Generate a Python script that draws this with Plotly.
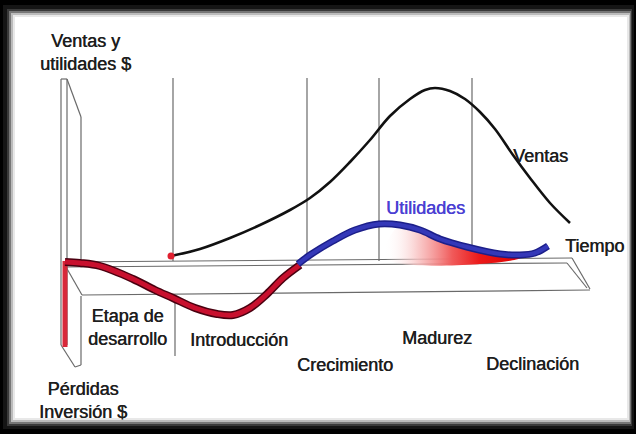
import plotly.graph_objects as go

# ---------------- data (time position, value above the time axis) ----------------
sales_t = [171, 200, 230, 260, 290, 310, 330, 350, 370, 390, 410, 425, 435, 450, 465, 480, 495, 513, 530, 550, 570]
sales_v = [6, 13, 24, 37, 52, 64, 80, 100, 122, 146, 163, 172, 174, 171, 163, 150, 133, 107, 84, 59, 39]

loss_t = [65, 80, 100, 133, 155, 173, 195, 217, 233, 250, 267, 283, 300]
loss_v = [0, -1, -4, -17, -28, -36, -46, -52, -53, -46, -32, -16, -3]

profit_t = [298, 310, 333, 355, 379, 400, 420, 440, 467, 500, 520, 535, 548]
profit_v = [-2, 7, 21, 32, 38, 37, 32, 23, 15, 8, 7, 9, 16]

invest_t = [65, 65]
invest_v = [1, -85]

stage_bounds = [173, 307, 379, 472]
stage_labels = ["Introducción", "Crecimiento", "Madurez", "Declinación"]

BASE = 262  # pixel row of the time axis


def v(py):
    return BASE - py


fig = go.Figure()

# gradient area under the profit curve (maturity/decline)
fill_t = [t for t in profit_t if 385 <= t <= 520]
fill_v = [val for t, val in zip(profit_t, profit_v) if 385 <= t <= 520]
fig.add_trace(go.Scatter(
    x=[385] + fill_t + [520, 385], y=[4] + fill_v + [4, 4],
    mode="lines", line=dict(width=0, shape="spline"), fill="toself",
    fillgradient=dict(type="horizontal",
                      colorscale=[[0, "rgba(255,255,255,0)"], [0.25, "rgba(248,190,190,0.8)"],
                                  [0.5, "rgb(240,90,90)"], [0.7, "rgb(235,25,25)"], [1, "rgb(225,0,0)"]]),
    hoverinfo="skip", showlegend=False))

# sales curve
fig.add_trace(go.Scatter(x=sales_t, y=sales_v, mode="lines", line=dict(color="#111", width=2.6, shape="spline"),
                         showlegend=False, hoverinfo="skip"))
fig.add_trace(go.Scatter(x=[sales_t[0]], y=[sales_v[0]], mode="markers",
                         marker=dict(color="#e02030", size=7), showlegend=False, hoverinfo="skip"))

# investment drop on left wall
fig.add_trace(go.Scatter(x=invest_t, y=invest_v, mode="lines", line=dict(color="#d8283a", width=5),
                         showlegend=False, hoverinfo="skip"))
# loss curve (red with dark edge)
fig.add_trace(go.Scatter(x=loss_t, y=loss_v, mode="lines", line=dict(color="#4a0010", width=8, shape="spline"),
                         showlegend=False, hoverinfo="skip"))
fig.add_trace(go.Scatter(x=loss_t, y=loss_v, mode="lines", line=dict(color="#c8102e", width=5, shape="spline"),
                         showlegend=False, hoverinfo="skip"))
# profit curve (blue)
fig.add_trace(go.Scatter(x=profit_t, y=profit_v, mode="lines", line=dict(color="#1c1f8a", width=7, shape="spline"),
                         showlegend=False, hoverinfo="skip"))
fig.add_trace(go.Scatter(x=profit_t, y=profit_v, mode="lines", line=dict(color="#3438b8", width=4, shape="spline"),
                         showlegend=False, hoverinfo="skip"))

shapes = []
# frame with soft edges
for (x0, y0, x1, y1, c) in [(3, 5, 634, 429, "#151515"), (7, 9, 632, 426, "#3a3a3a"),
                            (9, 11, 631, 424, "#777"), (11, 13, 630, 422, "#bbb"),
                            (13, 15, 629, 420, "#e8e8e8"), (15, 17, 627, 418, "#ffffff")]:
    shapes.append(dict(type="rect", x0=x0, x1=x1, y0=v(y0), y1=v(y1), fillcolor=c,
                       line=dict(width=0), layer="below"))

gl = dict(color="#6a6a6a", width=1.2)


def seg(p0, p1, line=gl):
    shapes.append(dict(type="line", x0=p0[0], y0=v(p0[1]), x1=p1[0], y1=v(p1[1]), line=line, layer="below"))


# stage dividers
for b in stage_bounds:
    shapes.append(dict(type="line", x0=b, x1=b, y0=v(78), y1=v(261), line=gl, layer="below"))
seg((175, 297), (175, 356))

# left wall (vertical axis panel)
seg((61, 79), (67, 79))
seg((61, 79), (61, 345))
seg((67, 79), (67, 345))
seg((67, 79), (81, 117))
seg((81, 117), (81, 262))
seg((81, 296), (81, 365))
seg((61, 345), (75, 367))
seg((75, 367), (81, 365))

# time axis platform
seg((63, 262), (572, 258))
seg((66, 267), (567, 263))
seg((82, 295), (590, 290))
seg((66, 267), (82, 295))
seg((572, 258), (590, 289))
seg((567, 263), (587, 288))

FONT = dict(family="Liberation Sans, Arial, sans-serif", size=18, color="#1e1e1e",
            shadow="0.4px 0 0 #1e1e1e")
ann = []


def txt(x, py, s, anchor="center", color=None):
    f = dict(FONT)
    if color:
        f["color"] = color
        f["shadow"] = "0.4px 0 0 " + color
    ann.append(dict(x=x, y=v(py), text=s, showarrow=False, xanchor=anchor, yanchor="middle", font=f,
                    xref="x", yref="y"))


txt(85, 52, "Ventas y<br>utilidades $")
txt(511, 156, "Ventas", "left")
txt(425, 208, "Utilidades", color="#4b3fd3")
txt(563, 246, "Tiempo", "left")
txt(127, 327, "Etapa de<br>desarrollo")
txt(239, 340, stage_labels[0])
txt(345, 365, stage_labels[1])
txt(437, 338, stage_labels[2])
txt(532, 364, stage_labels[3])
txt(83, 400, "Pérdidas<br>Inversión $")

fig.update_layout(
    width=636, height=434, margin=dict(l=0, r=0, t=0, b=0),
    paper_bgcolor="#000", plot_bgcolor="#000",
    xaxis=dict(range=[0, 636], visible=False, fixedrange=True),
    yaxis=dict(range=[v(434), v(0)], visible=False, fixedrange=True),
    shapes=shapes, annotations=ann, showlegend=False,
)
fig.write_html("out.html", config=dict(displayModeBar=False),
               post_script="document.body.style.margin='0px';document.body.style.overflow='hidden';")
